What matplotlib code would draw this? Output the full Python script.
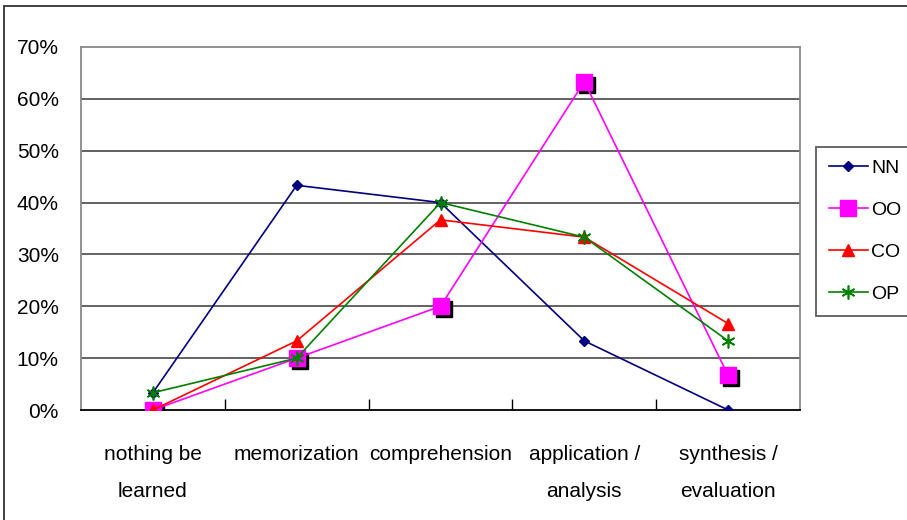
import numpy as np
import matplotlib
matplotlib.use('Agg')
import matplotlib.pyplot as plt
import matplotlib.transforms as mtransforms
from matplotlib.patches import Rectangle

plt.rcParams['font.family'] = ['Liberation Sans Narrow', 'Liberation Sans', 'DejaVu Sans']

# data (percent)
categories = ['nothing be\nlearned', 'memorization', 'comprehension',
              'application /\nanalysis', 'synthesis /\nevaluation']
nn = [3.33, 43.33, 40.0, 13.33, 0.0]
oo = [0.0, 10.0, 20.0, 63.33, 6.67]
co = [0.0, 13.33, 36.67, 33.33, 16.67]
op = [3.33, 10.0, 40.0, 33.33, 13.33]
y_ticks = [0, 10, 20, 30, 40, 50, 60, 70]

fig = plt.figure(figsize=(9.07, 5.20), dpi=100)
ax = fig.add_axes([81/907, 1 - 410/520, (800-81)/907, (410-47)/520])

x = np.arange(1, len(categories) + 1)

# gridlines
for v in y_ticks[1:-1]:
    ax.axhline(v, color='#555555', lw=1.3, zorder=1)

ax.plot(x, nn, color='#000080', lw=1.2, marker='D', ms=5.5, label='NN', zorder=3)

# black drop shadow for the magenta squares
shadow = mtransforms.offset_copy(ax.transData, fig=fig, x=3, y=-3, units='dots')
ax.plot(x, oo, ls='none', marker='s', ms=12, color='black', transform=shadow, zorder=2.5)
ax.plot(x, oo, color='#ff00ff', lw=1.2, marker='s', ms=12, label='OO', zorder=3)
ax.plot(x, co, color='#ff0000', lw=1.2, marker='^', ms=8, label='CO', zorder=4)
ax.plot(x, op, color='#008000', lw=1.2, marker=(6, 2, 0), ms=10, mew=1.2, label='OP', zorder=4)

ax.set_xlim(0.5, len(categories) + 0.5)
ax.set_ylim(0, 70)
ax.set_yticks(y_ticks)
ax.set_yticklabels([f'{v}%' for v in y_ticks])
ax.set_xticks(x)
ax.set_xticklabels(categories, linespacing=2.2)
ax.set_xticks(np.arange(1.5, len(categories), 1.0), minor=True)
ax.tick_params(axis='x', which='major', length=0, pad=25, labelsize=15)
ax.tick_params(axis='x', which='minor', direction='in', length=8, width=1, color='black')
ax.tick_params(axis='y', length=0, pad=16, labelsize=15)

for side in ['left', 'right', 'top']:
    ax.spines[side].set_color('#888888')
    ax.spines[side].set_linewidth(1.3)
ax.spines['bottom'].set_color('black')
ax.spines['bottom'].set_linewidth(1.3)

# outer chart border
fig.patches.append(Rectangle((4/907, -0.1), 1.2, 1 - 6/520 + 0.1, transform=fig.transFigure,
                             fill=False, edgecolor='#333333', lw=1.3))

leg = fig.legend(loc='upper left', bbox_to_anchor=(816/907, 1 - 147/520),
                 fontsize=14, frameon=True, fancybox=False, edgecolor='#333333',
                 handlelength=2.0, handletextpad=0.2, labelspacing=1.25,
                 borderpad=0.65, borderaxespad=0)
leg.get_frame().set_linewidth(1.3)

fig.savefig('out.png', dpi=100)
